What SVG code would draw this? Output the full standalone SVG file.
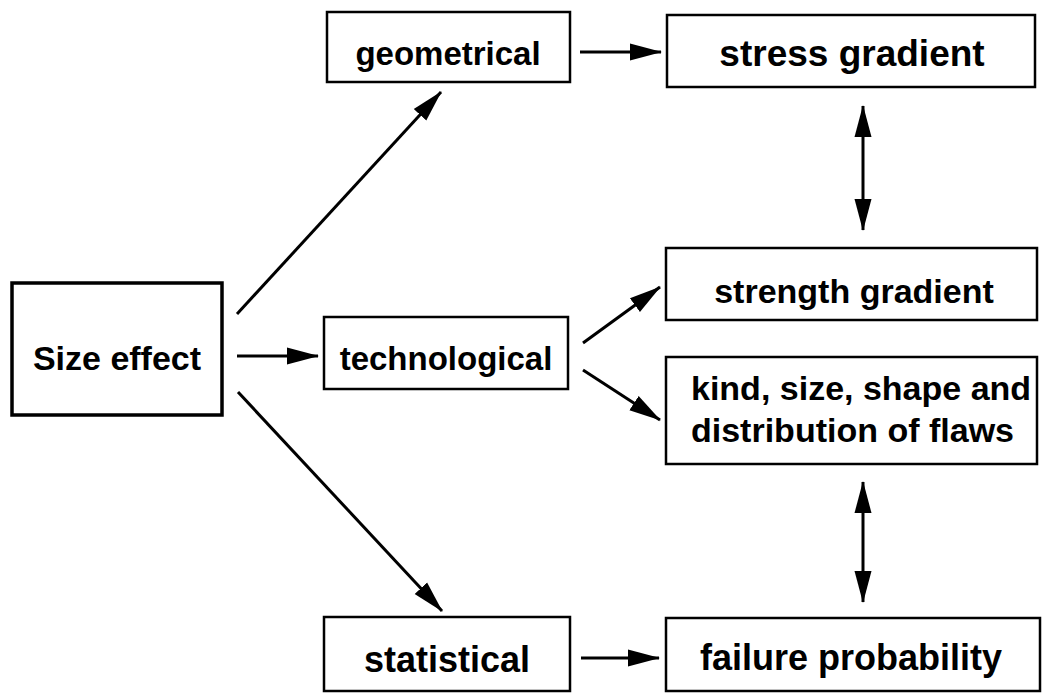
<svg xmlns="http://www.w3.org/2000/svg" width="1054" height="693" viewBox="0 0 1054 693">
<style>
.box{fill:#fff;stroke:#000;stroke-width:2.5}
.t{font-family:"Liberation Sans",Arial,sans-serif;font-weight:bold;fill:#000;text-anchor:middle}
.c{stroke:#000;stroke-width:3;fill:none;marker-end:url(#ah)}
.d{stroke:#000;stroke-width:3;fill:none;marker-end:url(#ah);marker-start:url(#ah)}
</style>
<defs>
<marker id="ah" markerUnits="userSpaceOnUse" markerWidth="32" markerHeight="19" refX="31" refY="9.5" orient="auto-start-reverse" viewBox="0 0 32 19">
<path d="M0,1 L32,9.5 L0,18 z" fill="#000"/>
</marker>
</defs>
<rect width="1054" height="693" fill="#fff"/>
<g id="size-effect"><rect class="box" x="12" y="283" width="210" height="132" style="stroke-width:3.5"/><text class="t" x="117" y="370" font-size="34">Size effect</text></g>
<g id="geometrical"><rect class="box" x="327" y="12" width="243" height="70"/><text class="t" x="448" y="65" font-size="33">geometrical</text></g>
<g id="technological"><rect class="box" x="324" y="317" width="244" height="72"/><text class="t" x="446" y="370" font-size="33">technological</text></g>
<g id="statistical"><rect class="box" x="324" y="617" width="246" height="74"/><text class="t" x="447" y="672" font-size="36">statistical</text></g>
<g id="stress-gradient"><rect class="box" x="667" y="15" width="368" height="72"/><text class="t" x="852" y="66" font-size="37">stress gradient</text></g>
<g id="strength-gradient"><rect class="box" x="666" y="248" width="371" height="72"/><text class="t" x="854" y="303" font-size="34">strength gradient</text></g>
<g id="flaws"><rect class="box" x="666" y="357" width="371" height="107"/><text class="t" x="691" y="400" font-size="34" style="text-anchor:start">kind, size, shape and</text><text class="t" x="691" y="442" font-size="34" style="text-anchor:start">distribution of flaws</text></g>
<g id="failure-probability"><rect class="box" x="666" y="618" width="374" height="73"/><text class="t" x="851" y="670" font-size="36">failure probability</text></g>
<g id="connectors">
<line class="c" x1="237" y1="314" x2="441" y2="92"/>
<line class="c" x1="237" y1="356" x2="318" y2="356"/>
<line class="c" x1="238" y1="392" x2="442" y2="611"/>
<line class="c" x1="580" y1="52" x2="661" y2="52"/>
<line class="c" x1="583" y1="343" x2="660" y2="287"/>
<line class="c" x1="583" y1="370" x2="660" y2="420"/>
<line class="c" x1="581" y1="658" x2="659" y2="658"/>
<line class="d" x1="863" y1="106" x2="863" y2="230"/>
<line class="d" x1="863" y1="482" x2="863" y2="602"/>
</g>
</svg>
